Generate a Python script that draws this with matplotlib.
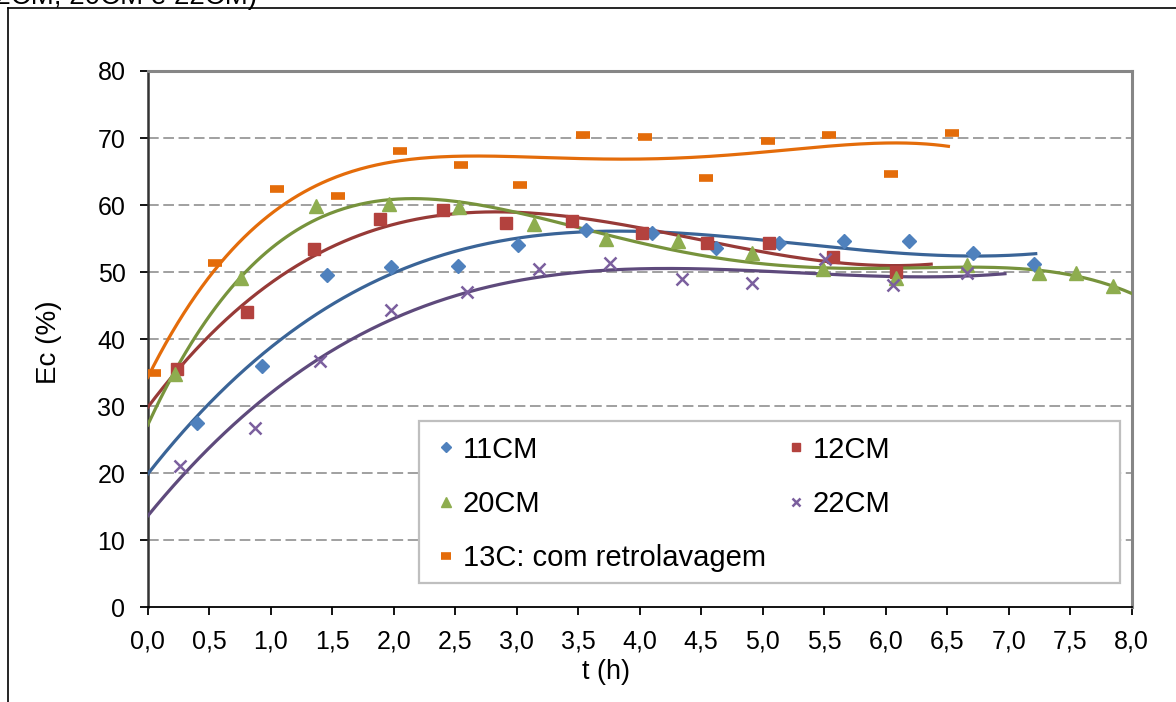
import numpy as np
import matplotlib
matplotlib.use("Agg")
import matplotlib.pyplot as plt
from matplotlib.patches import Rectangle
from matplotlib.lines import Line2D

plt.rcParams['font.family'] = ['Liberation Sans', 'DejaVu Sans']

# Time (h) and efficiency Ec (%) for each run
t_11 = [0.40, 0.93, 1.46, 1.98, 2.52, 3.01, 3.56, 4.10, 4.62, 5.13, 5.66, 6.19, 6.71, 7.21]
e_11 = [27.5, 36.0, 49.6, 50.7, 50.9, 54.0, 56.3, 55.9, 53.6, 54.4, 54.6, 54.7, 52.9, 51.2]

t_12 = [0.24, 0.81, 1.35, 1.89, 2.40, 2.91, 3.45, 4.02, 4.55, 5.05, 5.57, 6.08]
e_12 = [35.6, 44.1, 53.4, 57.9, 59.3, 57.3, 57.6, 55.9, 54.4, 54.4, 52.2, 50.0]

t_20 = [0.22, 0.76, 1.37, 1.96, 2.53, 3.14, 3.73, 4.31, 4.91, 5.49, 6.08, 6.66, 7.25, 7.55, 7.85]
e_20 = [34.8, 49.1, 59.9, 60.2, 59.7, 57.2, 54.9, 54.6, 52.9, 50.5, 49.1, 51.1, 49.8, 49.9, 47.9]

t_22 = [0.26, 0.87, 1.40, 1.98, 2.60, 3.18, 3.76, 4.34, 4.91, 5.51, 6.06, 6.66]
e_22 = [21.1, 26.7, 36.7, 44.4, 47.0, 50.4, 51.4, 49.0, 48.4, 51.9, 48.1, 49.9]

t_13 = [0.05, 0.55, 1.05, 1.55, 2.05, 2.55, 3.03, 3.54, 4.04, 4.54, 5.04, 5.54, 6.04, 6.54]
e_13 = [34.9, 51.4, 62.4, 61.3, 68.0, 66.0, 63.0, 70.4, 70.1, 64.1, 69.5, 70.4, 64.7, 70.8]

labels = ['11CM', '12CM', '20CM', '22CM', '13C: com retrolavagem']
x_ticks = [0.0, 0.5, 1.0, 1.5, 2.0, 2.5, 3.0, 3.5, 4.0, 4.5, 5.0, 5.5, 6.0, 6.5, 7.0, 7.5, 8.0]
y_ticks = [0, 10, 20, 30, 40, 50, 60, 70, 80]

# polynomial trend lines: (degree, end of the drawn span in h)
trend_span = {'11CM': (3, 7.22), '12CM': (3, 6.37), '20CM': (4, 8.2),
              '22CM': (3, 6.97), '13C: com retrolavagem': (4, 6.51)}

series = {
    '11CM': (t_11, e_11, dict(marker='D', ms=7.5, mfc='#4F81BD', mec='#4F81BD'), '#3A6497'),
    '12CM': (t_12, e_12, dict(marker='s', ms=8.5, mfc='#B3423E', mec='#B3423E'), '#973A37'),
    '20CM': (t_20, e_20, dict(marker='^', ms=9.5, mfc='#8EAD4F', mec='#8EAD4F'), '#77933C'),
    '22CM': (t_22, e_22, dict(marker='x', ms=8, mec='#7B5F9E', mew=1.8), '#5E4A7C'),
    '13C: com retrolavagem': (t_13, e_13, dict(marker='_', ms=10, mec='#E46C0A', mew=5.5), '#E46C0A'),
}

fig = plt.figure(figsize=(11.76, 7.02), dpi=100)
ax = fig.add_axes([0.1256, 0.1349, 0.8367, 0.7640])

ax.set_xlim(0, 8)
ax.set_ylim(0, 80)

for v in y_ticks[1:-1]:
    ax.axhline(v, color='#868686', lw=1.1, ls=(0, (7, 3)), zorder=1)

handles = {}
for name, (t, e, mk, lc) in series.items():
    deg, end = trend_span[name]
    coef = np.polyfit(t, e, deg)
    tt = np.linspace(0, end, 400)
    ax.plot(tt, np.polyval(coef, tt), color=lc, lw=2.3, zorder=3, clip_on=True)
    ax.plot(t, e, ls='none', zorder=4, **mk)
    handles[name] = Line2D([], [], ls='none', **mk)

# legend frame
ax.add_patch(Rectangle((0.2757, 0.0448), 0.7124, 0.3032, transform=ax.transAxes,
                       facecolor='white', edgecolor='#BFBFBF', lw=1.6, zorder=5))
order = ['11CM', '20CM', '13C: com retrolavagem', '12CM', '22CM']
leg = ax.legend([handles[k] for k in order], order, ncol=2, frameon=False,
                loc='upper left', bbox_to_anchor=(0.283, 0.342),
                fontsize=21, markerscale=0.7, handlelength=0.55, handletextpad=0.3,
                labelspacing=0.9, columnspacing=0.75, borderaxespad=0)
leg.set_zorder(6)

ax.set_xticks(x_ticks)
ax.set_xticklabels([f'{v:.1f}'.replace('.', ',') for v in x_ticks])
ax.set_yticks(y_ticks)
ax.set_yticklabels([str(v) for v in y_ticks])
ax.tick_params(axis='both', direction='out', length=6, width=1.3, color='black',
               labelsize=18, pad=10)

for s in ['top', 'right']:
    ax.spines[s].set_color('#868686')
    ax.spines[s].set_linewidth(2.2)
ax.spines['left'].set_color('#333333')
ax.spines['left'].set_linewidth(1.8)
ax.spines['bottom'].set_color('black')
ax.spines['bottom'].set_linewidth(1.3)

fig.text(606 / 1176, 1 - 672 / 702, 't (h)', ha='center', va='center', fontsize=19.5)
fig.text(49 / 1176, 1 - 342 / 702, 'Ec (%)', ha='center', va='center',
         rotation=90, fontsize=20)

# outer frame and caption line above the chart
fig.add_artist(Line2D([8 / 1176, 1], [1 - 7.5 / 702, 1 - 7.5 / 702], color='black', lw=1.2))
fig.add_artist(Line2D([8.3 / 1176, 8.3 / 1176], [0, 1 - 7.5 / 702], color='black', lw=1.2))
fig.text(257 / 1176, 1 - 3.5 / 702, '(11CM, 12CM, 20CM e 22CM)', ha='right',
         va='baseline', fontsize=20)

fig.savefig('out.png', dpi=100)
